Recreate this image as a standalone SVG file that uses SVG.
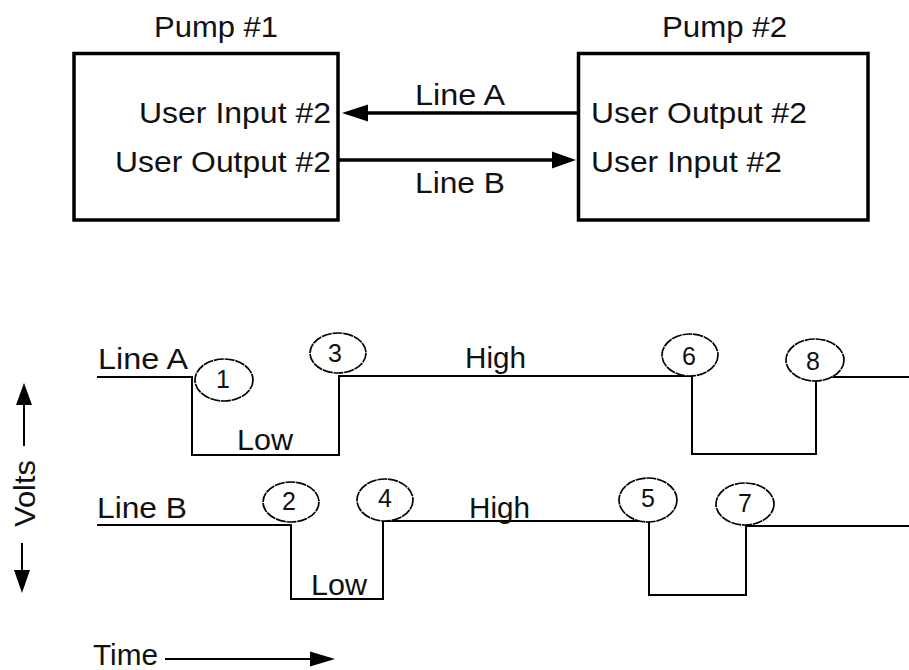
<svg xmlns="http://www.w3.org/2000/svg" width="909" height="670" viewBox="0 0 909 670">
<style>
  text { font-family: "Liberation Sans", Arial, sans-serif; font-size: 30px; fill: #111; }
  .num { font-size: 25px; text-anchor: middle; }
  .box { fill: #fff; stroke: #000; stroke-width: 3.5; }
  .wire { fill: none; stroke: #000; stroke-width: 3.5; }
  .wave { fill: none; stroke: #000; stroke-width: 2; }
  .ev { fill: #fff; stroke: #000; stroke-width: 1.7; stroke-dasharray: 10 0.8; }
  .head { fill: #000; stroke: none; }
</style>
<rect width="909" height="670" fill="#fff"/>

<g id="pump1">
  <text x="154" y="37" textLength="124" lengthAdjust="spacingAndGlyphs" font-size="28">Pump #1</text>
  <rect class="box" x="74" y="53.5" width="264" height="166.5"/>
  <text x="139" y="123" textLength="192" lengthAdjust="spacingAndGlyphs">User Input #2</text>
  <text x="115" y="172" textLength="216" lengthAdjust="spacingAndGlyphs">User Output #2</text>
</g>

<g id="pump2">
  <text x="662" y="37" textLength="125" lengthAdjust="spacingAndGlyphs" font-size="28">Pump #2</text>
  <rect class="box" x="578.5" y="53.5" width="289.5" height="166.5"/>
  <text x="591" y="123" textLength="216" lengthAdjust="spacingAndGlyphs">User Output #2</text>
  <text x="591" y="172" textLength="191" lengthAdjust="spacingAndGlyphs">User Input #2</text>
</g>

<g id="connectors">
  <line class="wire" x1="577" y1="113" x2="360" y2="113"/>
  <polygon class="head" points="342,113 368,104.5 368,121.5"/>
  <text x="415" y="105" textLength="90" lengthAdjust="spacingAndGlyphs">Line A</text>
  <line class="wire" x1="338" y1="160" x2="560" y2="160"/>
  <polygon class="head" points="576,160 552,151.5 552,168.5"/>
  <text x="415" y="193" textLength="90" lengthAdjust="spacingAndGlyphs">Line B</text>
</g>

<g id="timing-line-a">
  <text x="98" y="369" textLength="90" lengthAdjust="spacingAndGlyphs">Line A</text>
  <path class="wave" d="M97,377 H192 V455 H339 V376 H692 V454 H816 V377 H909"/>
  <text x="237" y="450" textLength="56" lengthAdjust="spacingAndGlyphs">Low</text>
  <text x="465" y="368" textLength="61" lengthAdjust="spacingAndGlyphs">High</text>
</g>

<g id="timing-line-b">
  <text x="97" y="518" textLength="90" lengthAdjust="spacingAndGlyphs">Line B</text>
  <path class="wave" d="M97,525 H291 V599 H383 V521 H649 V595 H746 V526 H909"/>
  <text x="311" y="595" textLength="56" lengthAdjust="spacingAndGlyphs">Low</text>
  <text x="469" y="518" textLength="61" lengthAdjust="spacingAndGlyphs">High</text>
</g>

<g id="event-1"><ellipse class="ev" cx="224" cy="380" rx="29" ry="21"/><text class="num" x="223" y="388">1</text></g>
<g id="event-2"><ellipse class="ev" cx="291" cy="502" rx="28" ry="20"/><text class="num" x="289" y="510">2</text></g>
<g id="event-3"><ellipse class="ev" cx="338" cy="353" rx="28" ry="20"/><text class="num" x="335" y="362">3</text></g>
<g id="event-4"><ellipse class="ev" cx="385" cy="500" rx="28" ry="21"/><text class="num" x="385" y="507">4</text></g>
<g id="event-5"><ellipse class="ev" cx="648" cy="500" rx="29" ry="22"/><text class="num" x="648" y="507">5</text></g>
<g id="event-6"><ellipse class="ev" cx="690" cy="355" rx="28" ry="21"/><text class="num" x="689" y="365">6</text></g>
<g id="event-7"><ellipse class="ev" cx="745" cy="504" rx="29" ry="21"/><text class="num" x="745" y="512">7</text></g>
<g id="event-8"><ellipse class="ev" cx="815" cy="360" rx="29" ry="21"/><text class="num" x="813" y="370">8</text></g>

<g id="volts-axis">
  <line class="wave" x1="24" y1="400" x2="24" y2="446"/>
  <polygon class="head" points="24,383 16,405 32,405"/>
  <text transform="translate(35,527) rotate(-90)" x="0" y="0" textLength="67" lengthAdjust="spacingAndGlyphs">Volts</text>
  <line class="wave" x1="22" y1="543" x2="22" y2="575"/>
  <polygon class="head" points="22,593 14,570 30,570"/>
</g>

<g id="time-axis">
  <text x="93" y="665" textLength="65" lengthAdjust="spacingAndGlyphs">Time</text>
  <line class="wave" x1="165" y1="659" x2="315" y2="659"/>
  <polygon class="head" points="335,659 310,651.5 310,666.5"/>
</g>
</svg>
